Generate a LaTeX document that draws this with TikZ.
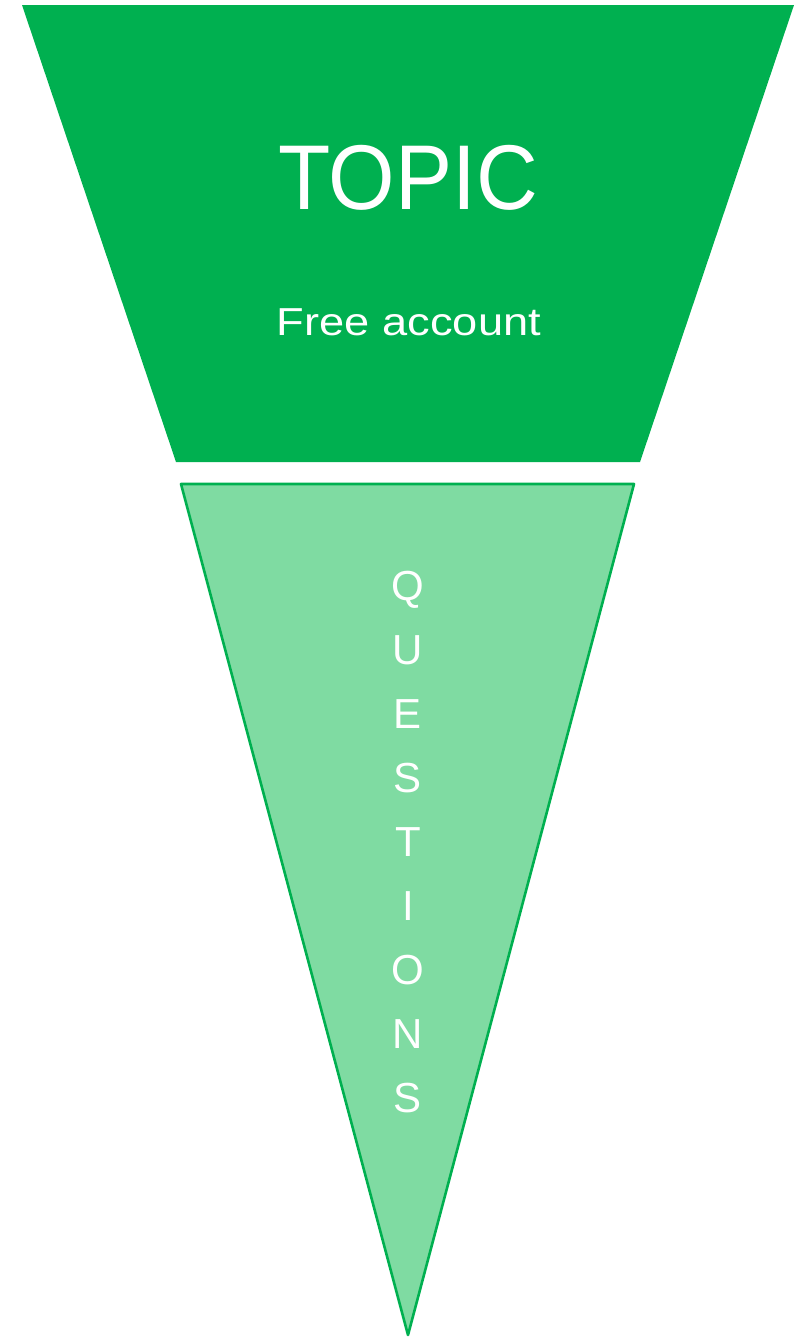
\documentclass[tikz,border=0pt]{standalone}
\usepackage{fontspec}
\setmainfont{Liberation Sans}
\newfontfamily\topicfont[FakeStretch = 0.93]{Liberation Sans}
\newfontfamily\freefont[FakeStretch = 1.16]{Liberation Sans}
\definecolor{topicgreen}{HTML}{00B050}
\definecolor{questgreen}{HTML}{7FDBA2}
\begin{document}
\begin{tikzpicture}[%
  x = 1pt, y = -1pt,
  word/.style = {text = white, inner sep = 0pt, anchor = base},
  letter/.style = {word, font = \fontsize{42}{42}\selectfont}]
  \useasboundingbox (0,0) rectangle (811,1339);

  % funnel top
  \coordinate (tl) at (22,5);
  \coordinate (tr) at (794,5);
  \coordinate (br) at (640,462);
  \coordinate (bl) at (176,462);
  \fill[topicgreen] (tl) -- (tr) -- (br) -- (bl) -- cycle;

  % funnel tip
  \coordinate (ql) at (181,484);
  \coordinate (qr) at (634,484);
  \coordinate (qa) at (408,1335);
  \filldraw[fill = questgreen, draw = topicgreen, line width = 2.6pt, line join = round]
    (ql) -- (qr) -- (qa) -- cycle;

  \node[word, font = \topicfont\fontsize{92}{92}\selectfont] (topic) at (408,209) {TOPIC};
  \node[word, font = \freefont\fontsize{39}{39}\selectfont] (free) at (409,335) {Free account};

  \foreach \ch [count = \i from 0] in {Q,U,E,S,T,I,O,N,S}
    \node[letter] (q\i) at (408,600+64*\i) {\ch};
\end{tikzpicture}
\end{document}
